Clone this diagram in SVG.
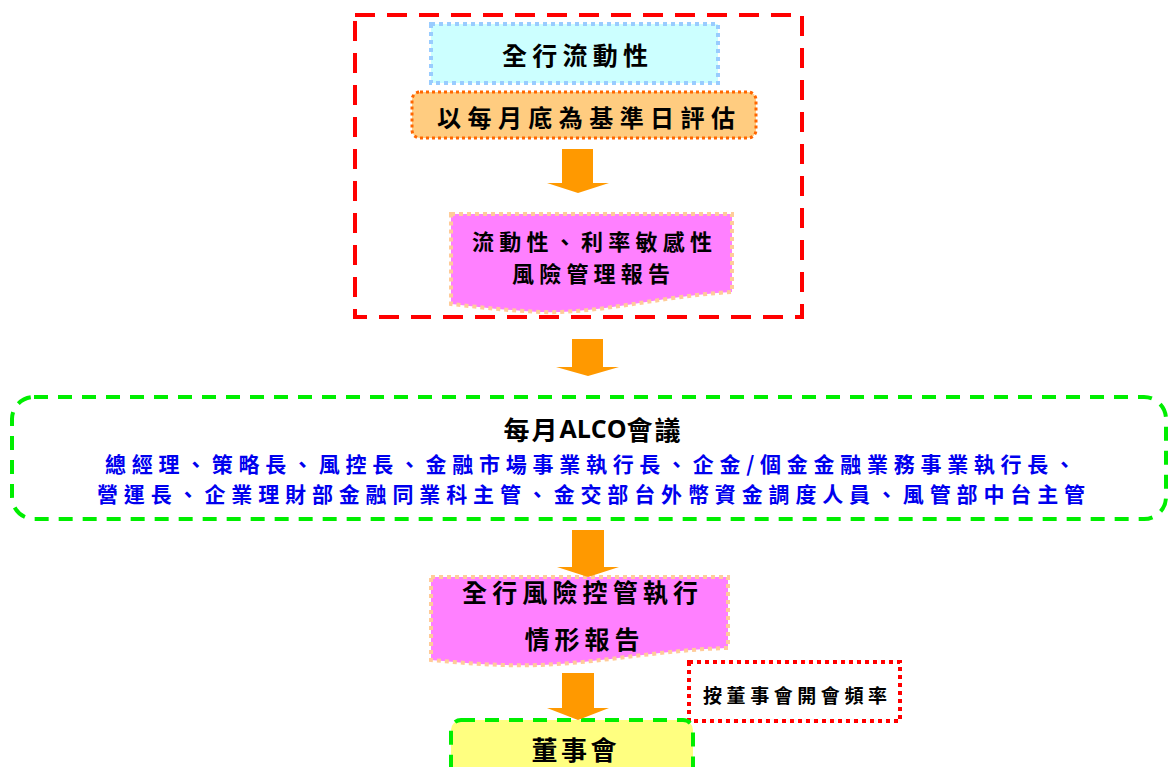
<svg xmlns="http://www.w3.org/2000/svg" width="1168" height="767" viewBox="0 0 1168 767">
<style>
.t{font-family:"Noto Sans CJK TC","Noto Sans CJK SC",sans-serif;font-weight:700;fill:#000;dominant-baseline:central;text-anchor:middle}
.b{fill:#0000EE}
.lat{font-family:"Open Sans","Liberation Sans",sans-serif;font-weight:700}
.arrow{fill:#FF9900;stroke:none}
</style>
<rect width="1168" height="767" fill="#fff"/>
<g id="group-liquidity">
<rect x="355" y="15" width="447" height="302" fill="none" stroke="#FF0000" stroke-width="4" stroke-dasharray="20 12"/>
</g>
<g id="node-liquidity">
<rect x="431" y="24" width="287" height="59" fill="#CCFFFF" stroke="#99CCFF" stroke-width="4" stroke-dasharray="4 4"/>
<text class="t" x="575" y="54" font-size="25" textLength="146" lengthAdjust="spacing">全行流動性</text>
</g>
<g id="node-monthly">
<rect x="412" y="92" width="344" height="46" rx="8" fill="#FFCC80" stroke="#FF6600" stroke-width="3" stroke-dasharray="3 3"/>
<text class="t" x="586" y="116" font-size="24" textLength="298" lengthAdjust="spacing">以每月底為基準日評估</text>
</g>
<g id="node-report1">
<path d="M451,214 H732 V292 C660,296 600,314 540,312 C500,310 470,306 451,304 Z" fill="#FF80FF" stroke="#FFCC99" stroke-width="4" stroke-dasharray="4 4"/>
<text class="t" x="592" y="240" font-size="22" textLength="240" lengthAdjust="spacing">流動性、利率敏感性</text>
<text class="t" x="591" y="272" font-size="22" textLength="158" lengthAdjust="spacing">風險管理報告</text>
</g>
<g id="node-alco">
<rect x="12" y="397" width="1154" height="122" rx="22" fill="#fff" stroke="#00EE00" stroke-width="4" stroke-dasharray="14 10"/>
<text class="t" x="593" y="428" font-size="26" letter-spacing="2">每月<tspan class="lat" font-size="25" letter-spacing="0">ALCO</tspan>會議</text>
<text class="t b" x="590" y="463" font-size="21" textLength="970" lengthAdjust="spacing">總經理、策略長、風控長、金融市場事業執行長、企金/個金金融業務事業執行長、</text>
<text class="t b" x="591" y="493" font-size="21" textLength="988" lengthAdjust="spacing">營運長、企業理財部金融同業科主管、金交部台外幣資金調度人員、風管部中台主管</text>
</g>
<g id="node-report2">
<path d="M431,577 H728 V648 C650,650 580,668 503,665 C470,664 445,661 431,660 Z" fill="#FF80FF" stroke="#FFCC99" stroke-width="4" stroke-dasharray="4 4"/>
<text class="t" x="580" y="591" font-size="25" textLength="236" lengthAdjust="spacing">全行風險控管執行</text>
<text class="t" x="582" y="638" font-size="25" textLength="115" lengthAdjust="spacing">情形報告</text>
</g>
<g id="node-frequency">
<rect x="689" y="662" width="211" height="59" fill="#fff" stroke="#FF0000" stroke-width="4" stroke-dasharray="4 4"/>
<text class="t" x="795" y="694" font-size="19" textLength="184" lengthAdjust="spacing">按董事會開會頻率</text>
</g>
<g id="node-board">
<rect x="451" y="720" width="242" height="70" rx="10" fill="#FFFF80" stroke="#00EE00" stroke-width="4" stroke-dasharray="14 10"/>
<text class="t" x="574" y="748" font-size="26" textLength="85" lengthAdjust="spacing">董事會</text>
</g>
<g id="connectors">
<polygon class="arrow" points="562,149 593,149 593,183 609,183 578,193 547,183 562,183"/>
<polygon class="arrow" points="572,339 603,339 603,367 619,367 588,376 556,367 572,367"/>
<polygon class="arrow" points="572,530 604,530 604,567 619,567 588,577 557,567 572,567"/>
<polygon class="arrow" points="562,673 594,673 594,708 609,708 578,720 547,708 562,708"/>
</g>
</svg>
